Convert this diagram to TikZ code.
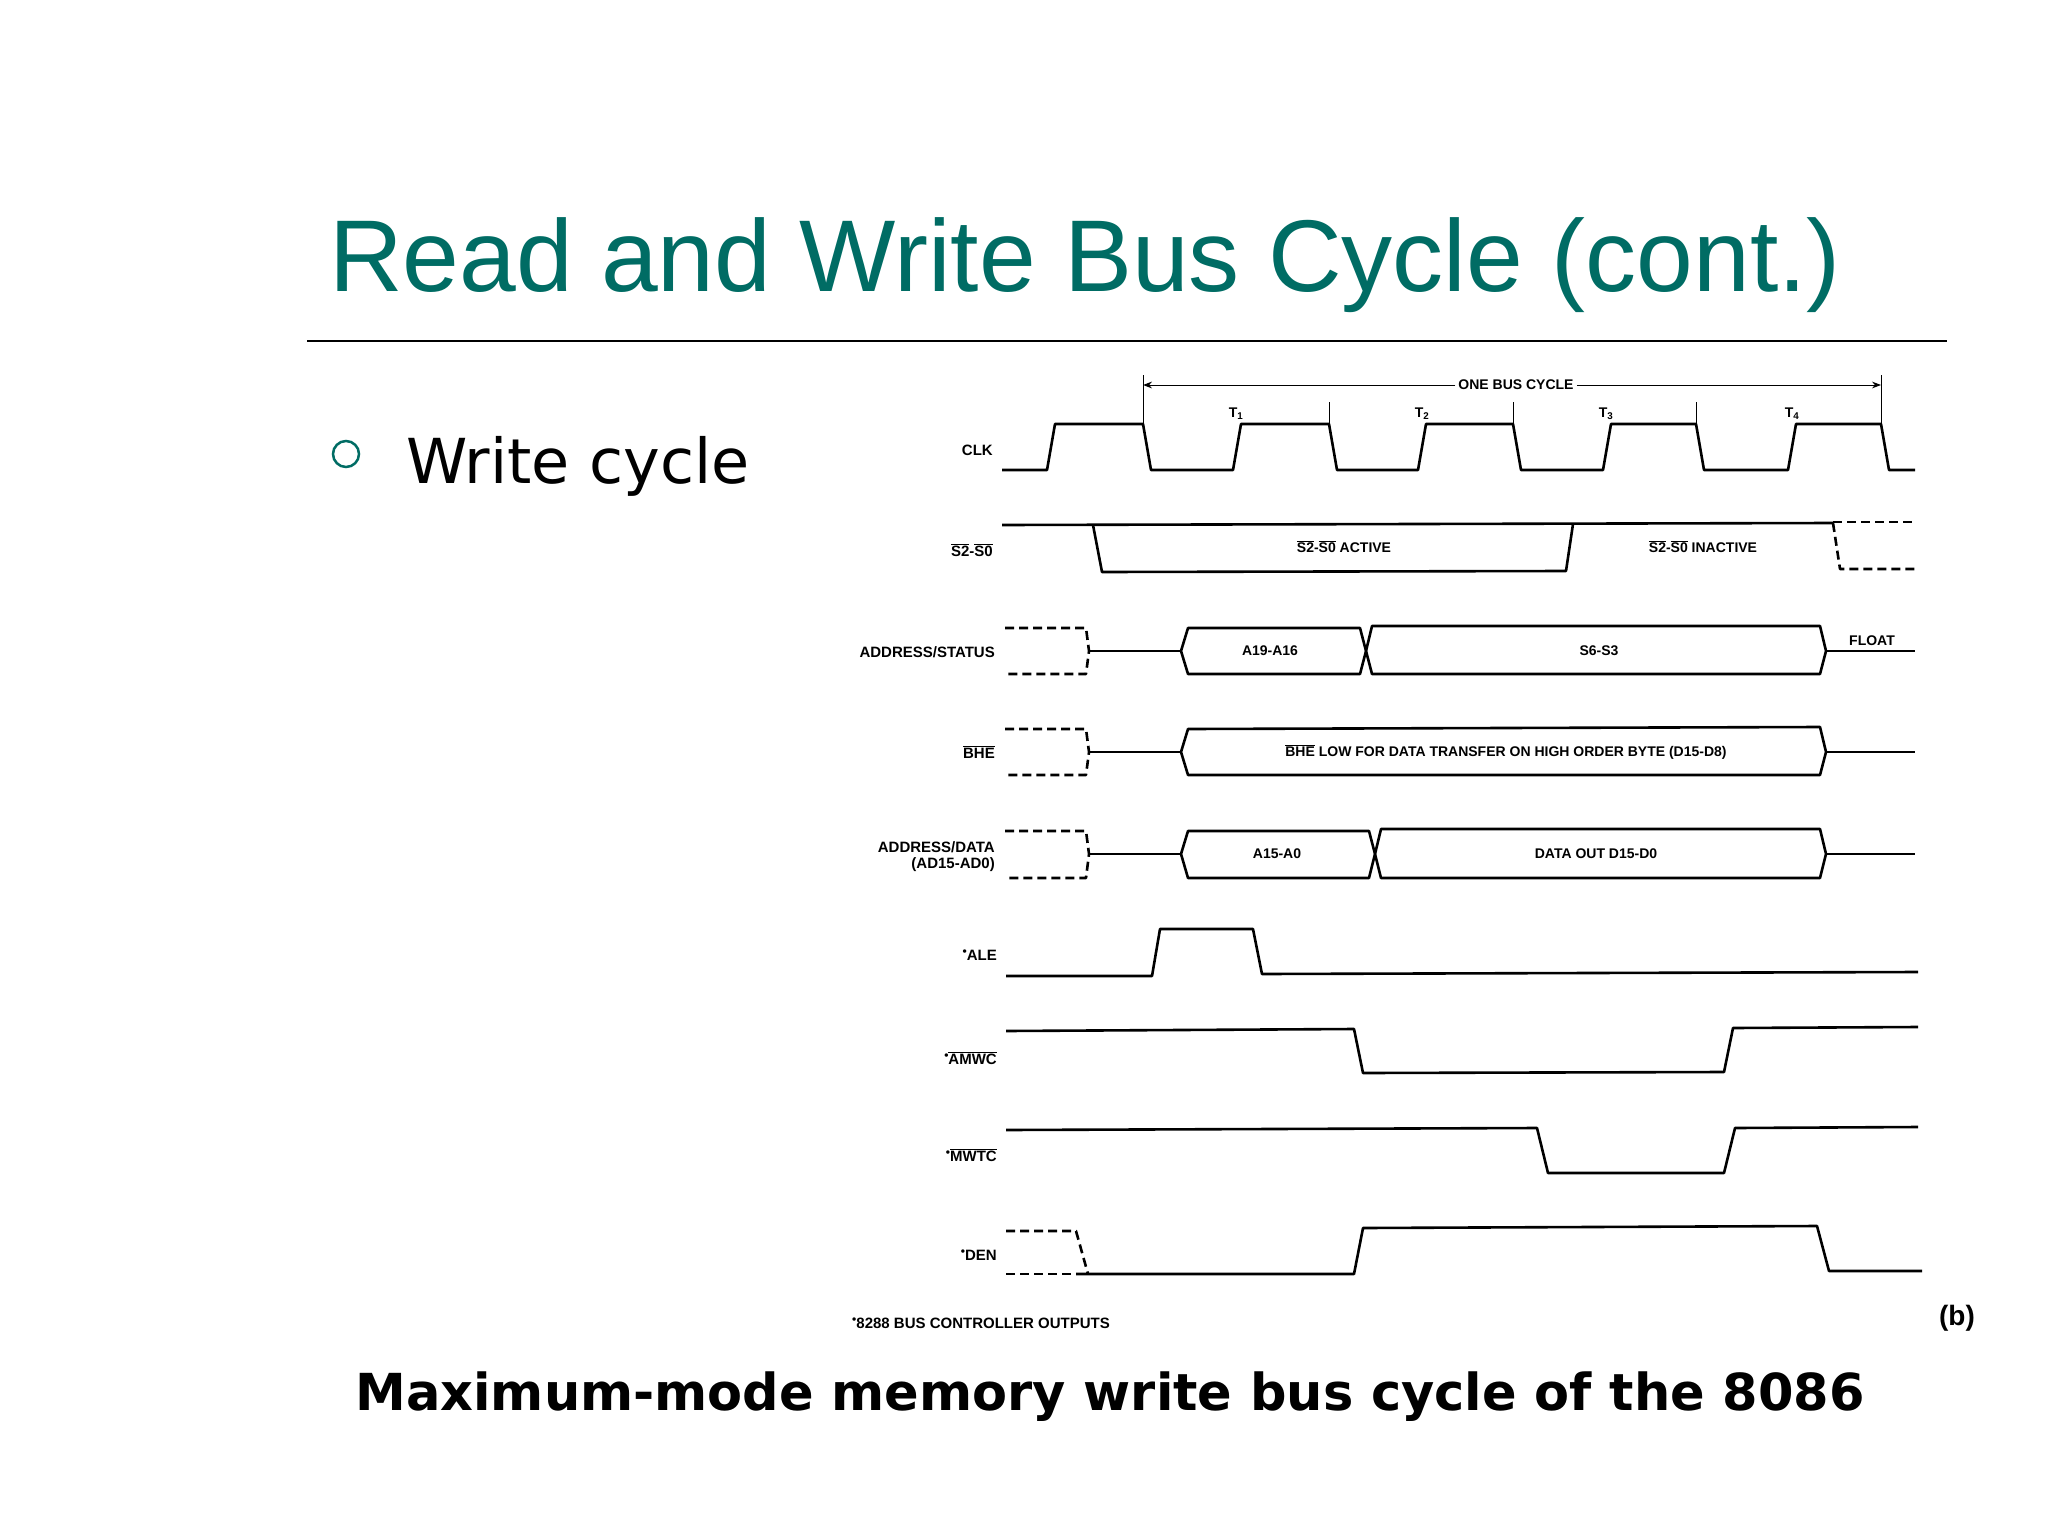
\documentclass[tikz,border=0pt]{standalone}
\usepackage{fontspec}
\setmainfont{Liberation Sans}
\newfontfamily\verd{DejaVu Sans}
\usepackage{xcolor}
\definecolor{TitleTeal}{RGB}{0,108,100}
\usetikzlibrary{arrows.meta}
\tikzstyle{wave} = [line width=2.6pt, line join=round]
\tikzstyle{float} = [wave, dash pattern=on 9pt off 5pt]
\tikzstyle{sig} = [font=\fontsize{15}{16}\selectfont\bfseries, inner sep=0pt, align=right]
\tikzstyle{tag} = [font=\fontsize{14}{14}\selectfont\bfseries, inner sep=0pt]
\newcommand{\ovl}[1]{$\overline{\hbox{#1}}$}
\newcommand{\ctl}{\raisebox{0.3em}{\fontsize{12}{12}\selectfont\textbullet}}

\begin{document}
\begin{tikzpicture}[x=1pt, y=-1pt]
  \useasboundingbox (0,0) rectangle (2048,1536);
  % slide text
  \node [anchor=west, text=TitleTeal, font=\fontsize{102}{102}\selectfont, inner sep=0pt] (Title) at (329,265) {Read and Write Bus Cycle (cont.)};
  \draw [line width=2pt] (307,341) -- (1947,341);
  \node [draw=TitleTeal, line width=2.5pt, circle, minimum size=26pt, inner sep=0pt] (Bullet) at (346,454) {};
  \node [anchor=west, font=\verd\fontsize{62}{62}\selectfont, inner sep=0pt] (Item) at (406,466) {Write cycle};
  \node [font=\verd\bfseries\fontsize{51}{51}\selectfont, inner sep=0pt] (Caption) at (1110,1397) {Maximum-mode memory write bus cycle of the 8086};
  %
  % signal names
  \node [sig, anchor=east] (CLK) at (993,450) {CLK};
  \node [sig, anchor=east] (S) at (993,550) {\ovl{S2}-\ovl{S0}};
  \node [sig, anchor=east] (AS) at (995,652) {ADDRESS/STATUS};
  \node [sig, anchor=east] (BHE) at (995,752) {\ovl{BHE}};
  \node [sig, anchor=east] (AD) at (995,857) {ADDRESS/DATA\\(AD15-AD0)};
  \node [sig, anchor=east] (ALE) at (997,955) {\ctl ALE};
  \node [sig, anchor=east] (AMWC) at (997,1058) {\ctl\ovl{AMWC}};
  \node [sig, anchor=east] (MWTC) at (997,1155) {\ctl\ovl{MWTC}};
  \node [sig, anchor=east] (DEN) at (997,1255) {\ctl DEN};
  \node [sig, anchor=west] (Note) at (852,1323) {\ctl 8288 BUS CONTROLLER OUTPUTS};
  \node [font=\fontsize{28}{28}\selectfont\bfseries, inner sep=0pt] (Fig) at (1957,1318) {(b)};
  %
  % clock
  \draw [wave] (1002,470) foreach \r/\f in {1047/1143,1233/1329,1418/1513,1603/1696,1788/1881}
      { -- (\r,470) -- (\r+8,424) -- (\f,424) -- (\f+8,470) } -- (1915,470);
  \foreach \x/\t in {1236/1,1422/2,1606/3,1792/4}
      \node [tag] (T\t) at (\x,414) {T\textsubscript{\t}};
  \draw [line width=1pt] (1143,375) -- (1143,424);
  \draw [line width=1pt] (1881,375) -- (1881,424);
  \foreach \x in {1329,1513,1696} \draw [line width=1pt] (\x,402) -- (\x,424);
  \node [tag, fill=white, inner xsep=3pt] (Cycle) at (1516,385) {ONE BUS CYCLE};
  \draw [line width=1pt, -{Stealth[length=9pt]}] (Cycle.west) -- (1143,385);
  \draw [line width=1pt, -{Stealth[length=9pt]}] (Cycle.east) -- (1881,385);
  %
  % status
  \draw [wave] (1002,525) -- (1833,523);
  \draw [wave] (1093,525) -- (1102,572) -- (1566,571) -- (1573,524);
  \draw [float] (1833,522) -- (1915,522);
  \draw [float] (1833,523) -- (1840,569) -- (1915,569);
  \node [tag] (Act) at (1344,547) {\ovl{S2}-\ovl{S0} ACTIVE};
  \node [tag] (Inact) at (1703,547) {\ovl{S2}-\ovl{S0} INACTIVE};
  %
  % bus lines
  \foreach \y/\t/\b in {651/628/674, 752/729/775, 854/831/878} {
    \draw [float] (1005,\t) -- (1086,\t) -- (1089,\y) -- (1086,\b) -- (1005,\b);
    \draw [wave] (1089,\y) -- (1181,\y);
    \draw [wave] (1826,\y) -- (1915,\y);
  }
  \draw [wave] (1181,651) -- (1188,628) -- (1360,628) -- (1366,651) -- (1360,674) -- (1188,674) -- cycle;
  \draw [wave] (1366,651) -- (1372,626) -- (1820,626) -- (1826,651) -- (1820,674) -- (1372,674) -- cycle;
  \node [tag] (A19) at (1270,651) {A19-A16};
  \node [tag] (S6) at (1599,651) {S6-S3};
  \node [tag, anchor=south] (Float) at (1872,646) {FLOAT};
  \draw [wave] (1181,752) -- (1188,729) -- (1820,727) -- (1826,752) -- (1820,775) -- (1188,775) -- cycle;
  \node [tag] (BHEtxt) at (1506,752) {\ovl{BHE} LOW FOR DATA TRANSFER ON HIGH ORDER BYTE (D15-D8)};
  \draw [wave] (1181,854) -- (1188,831) -- (1369,831) -- (1375,854) -- (1369,878) -- (1188,878) -- cycle;
  \draw [wave] (1375,854) -- (1381,829) -- (1820,829) -- (1826,854) -- (1820,878) -- (1381,878) -- cycle;
  \node [tag] (A15) at (1277,854) {A15-A0};
  \node [tag] (Dout) at (1596,854) {DATA OUT D15-D0};
  %
  % bus controller outputs
  \draw [wave] (1006,976) -- (1152,976) -- (1160,929) -- (1253,929) -- (1262,974) -- (1918,972);
  \draw [wave] (1006,1031) -- (1354,1029) -- (1363,1073) -- (1724,1072) -- (1733,1028) -- (1918,1027);
  \draw [wave] (1006,1130) -- (1537,1128) -- (1548,1173) -- (1724,1173) -- (1735,1128) -- (1918,1127);
  \draw [float] (1006,1231) -- (1076,1231) -- (1088,1274);
  \draw [float] (1006,1274) -- (1076,1274);
  \draw [wave] (1076,1274) -- (1354,1274) -- (1363,1228) -- (1817,1226) -- (1829,1271) -- (1922,1271);
\end{tikzpicture}
\end{document}
